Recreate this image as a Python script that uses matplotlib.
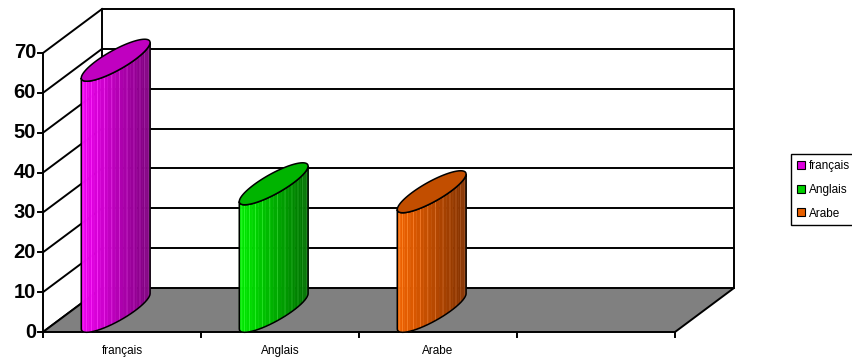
import numpy as np
import matplotlib
matplotlib.use("Agg")
import matplotlib.pyplot as plt
from matplotlib.patches import Polygon, Patch
from matplotlib.colors import to_rgb

# data
categories = ["français", "Anglais", "Arabe"]
values = [63, 32, 30]
n_slots = 4                     # Excel left an empty 4th slot on the floor
y_ticks = [0, 10, 20, 30, 40, 50, 60, 70]

# colours: (light side, dark side, top, legend)
light_cols = ["#F000F0", "#00EC00", "#F26200"]
dark_cols = ["#780078", "#006A00", "#7E3000"]
top_cols = ["#C000C0", "#00B400", "#C24E00"]
legend_cols = ["#DD00DD", "#00D000", "#E86000"]

# pixel geometry of the figure (852x358)
W, H = 852, 358
X0_PX, CAT_PX = 43, 158         # front axis x, width of a category
Y0_PX, UNIT_PX = 332, 279 / 70  # front zero line, px per unit
DEPTH_PX = (59, 44)             # oblique depth offset (right, up)

plt.rcParams['font.family'] = ['Liberation Sans', 'DejaVu Sans']

fig = plt.figure(figsize=(W / 100, H / 100), dpi=100)
ax = fig.add_axes([0, 0, 1, 1])
ax.set_xlim(-X0_PX / CAT_PX, (W - X0_PX) / CAT_PX)
ax.set_ylim((Y0_PX - H) / UNIT_PX, Y0_PX / UNIT_PX)
ax.axis('off')

DX = DEPTH_PX[0] / CAT_PX
DY = DEPTH_PX[1] / UNIT_PX
ymax = y_ticks[-1]
LW = 1.4

# back wall + side wall outline
ax.plot([DX, DX, n_slots + DX, n_slots + DX], [DY, ymax + DY, ymax + DY, DY],
        color='black', lw=LW, zorder=1)
for v in y_ticks:
    ax.plot([0, DX], [v, v + DY], color='black', lw=LW, zorder=1)
    if 0 < v < ymax:
        ax.plot([DX, n_slots + DX], [v + DY, v + DY], color='black', lw=LW, zorder=1)

# floor
floor = Polygon([(0, 0), (n_slots, 0), (n_slots + DX, DY), (DX, DY)],
                closed=True, facecolor='#808080', edgecolor='black', lw=LW, zorder=2)
ax.add_patch(floor)

# front value axis with ticks and labels
ax.plot([0, 0], [0, ymax], color='black', lw=LW, zorder=3)
for v in y_ticks:
    ax.plot([0, -5 / CAT_PX], [v, v], color='black', lw=LW, zorder=3)
    ax.annotate(str(v), xy=(0, v), xytext=(-5, 0), textcoords='offset points',
                ha='right', va='center', fontsize=14.5, fontweight='bold')

# category ticks and labels along the front floor edge
for i in range(n_slots + 1):
    ax.plot([i, i], [0, -5 / UNIT_PX], color='black', lw=LW, zorder=3)
for i, name in enumerate(categories):
    ax.annotate(name, xy=(i + 0.5, 0), xytext=(0, -14), textcoords='offset points',
                ha='center', va='center', fontsize=8.5)

# cylinder ellipse vectors (pixel -> data units)
u = np.array([18.5 / CAT_PX, 0.0])
w = np.array([29 / CAT_PX, 21 / UNIT_PX])
t_left = np.arctan2(-29, -18.5)


def ellipse(c, t):
    return c[None, :] + np.cos(t)[:, None] * u + np.sin(t)[:, None] * w


def draw_cylinder(i, v, light, dark, top):
    c = np.array([i + 0.46, 0.47 * DY])
    t = np.linspace(t_left, t_left + np.pi, 29)
    bot = ellipse(c, t)
    up = bot + [0, v]
    l_rgb, d_rgb = np.array(to_rgb(light)), np.array(to_rgb(dark))
    # vertical strips, light on the left going dark on the right
    for k in range(len(t) - 1):
        f = (bot[k, 0] - bot[0, 0]) / (bot[-1, 0] - bot[0, 0])
        col = l_rgb + (d_rgb - l_rgb) * f
        edge = np.clip(col + 0.18, 0, 1)
        quad = [bot[k], bot[k + 1], up[k + 1], up[k]]
        ax.add_patch(Polygon(quad, closed=True, facecolor=col,
                             edgecolor=edge if k % 2 else col, lw=0.5, zorder=5))
    outline = np.vstack([bot, up[::-1]])
    ax.add_patch(Polygon(outline, closed=True, facecolor='none',
                         edgecolor='black', lw=1.1, zorder=6))
    tt = np.linspace(0, 2 * np.pi, 80)
    lid = ellipse(c + [0, v], tt)
    ax.add_patch(Polygon(lid, closed=True, facecolor=top,
                         edgecolor='black', lw=1.1, zorder=7))


for i, v in enumerate(values):
    draw_cylinder(i, v, light_cols[i], dark_cols[i], top_cols[i])

# legend box on the right, partly cut by the figure edge
handles = [Patch(facecolor=c, edgecolor='black', lw=0.8) for c in legend_cols]
leg = fig.legend(handles, categories, loc='upper left',
                 bbox_to_anchor=(791 / W, 1 - 154 / H), borderaxespad=0,
                 fontsize=8.5, handlelength=0.65, handleheight=0.65,
                 handletextpad=0.35, labelspacing=1.0, borderpad=0.5,
                 fancybox=False, framealpha=1)
leg.get_frame().set_edgecolor('black')
leg.get_frame().set_linewidth(1.0)

fig.savefig("out.png", dpi=100)
